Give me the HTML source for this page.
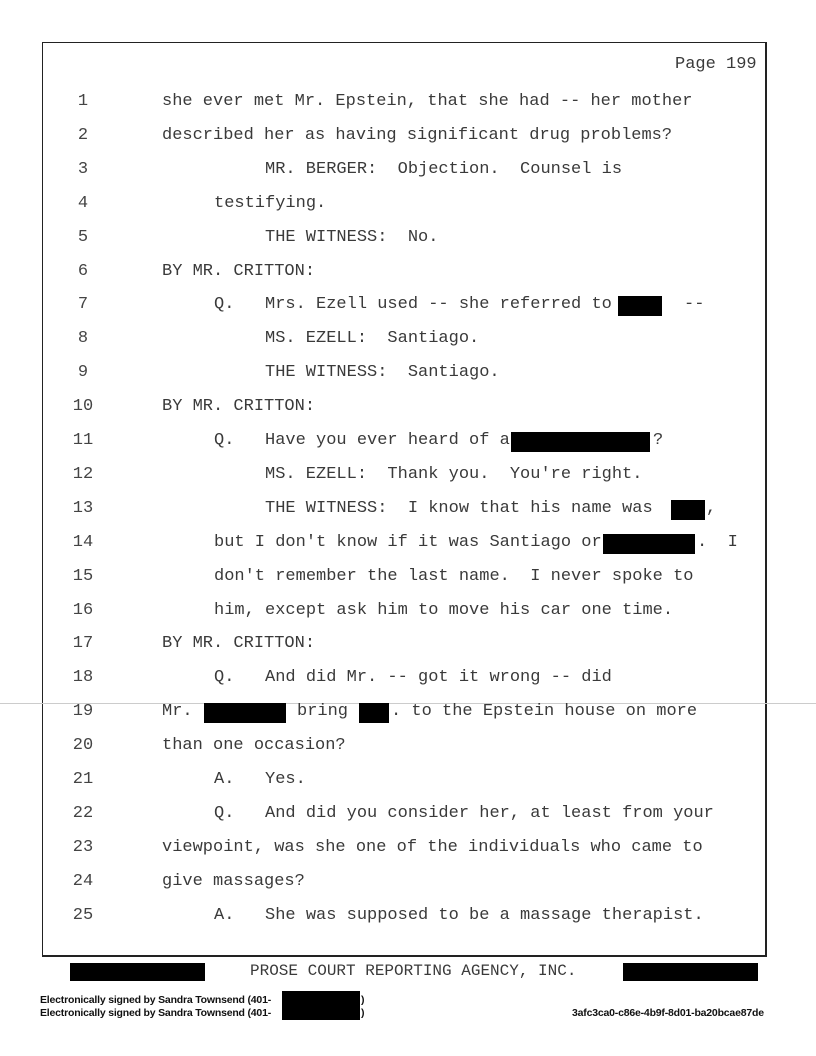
<!DOCTYPE html>
<html><head><meta charset="utf-8"><style>
body{margin:0;width:816px;height:1056px;background:#fff;position:relative;overflow:hidden;font-family:"Liberation Mono",monospace;color:#3a3a3a}
.box{position:absolute;left:42px;top:42px;width:722px;height:912px;border:1px solid #222;border-right:2px solid #222;border-bottom:2px solid #222}
.t{position:absolute;font-size:17px;white-space:pre;line-height:20px}
.n{position:absolute;font-size:17px;width:30px;text-align:center;left:68px;line-height:20px;color:#444}
.r{position:absolute;background:#000}
.s{position:absolute;font-family:"Liberation Sans",sans-serif;font-size:10.5px;font-weight:bold;color:#111;letter-spacing:-0.2px}
</style></head><body>
<div class="box"></div>
<div style="position:absolute;left:0;top:703px;width:816px;height:1px;background:#ccc"></div>
<div class="t" style="left:675px;top:55px">Page 199</div>
<div id="lines"></div>
<div class="t" style="left:250px;top:961px;font-size:16px">PROSE COURT REPORTING AGENCY, INC.</div>
<div class="r" style="left:70px;top:963px;width:135px;height:18px"></div>
<div class="r" style="left:623px;top:963px;width:135px;height:18px"></div>
<div class="s" style="left:40px;top:994px">Electronically signed by Sandra Townsend (401-</div>
<div class="s" style="left:40px;top:1007px">Electronically signed by Sandra Townsend (401-</div>
<div class="r" style="left:282px;top:991px;width:78px;height:29px"></div>
<div class="s" style="left:361px;top:994px">)</div>
<div class="s" style="left:361px;top:1007px">)</div>
<div class="s" style="left:572px;top:1007px">3afc3ca0-c86e-4b9f-8d01-ba20bcae87de</div>
<script>
var L=[
[[162,"she ever met Mr. Epstein, that she had -- her mother"]],
[[162,"described her as having significant drug problems?"]],
[[265,"MR. BERGER:  Objection.  Counsel is"]],
[[214,"testifying."]],
[[265,"THE WITNESS:  No."]],
[[162,"BY MR. CRITTON:"]],
[[214,"Q.   Mrs. Ezell used -- she referred to a"],[684,"--"]],
[[265,"MS. EZELL:  Santiago."]],
[[265,"THE WITNESS:  Santiago."]],
[[162,"BY MR. CRITTON:"]],
[[214,"Q.   Have you ever heard of a"],[653,"?"]],
[[265,"MS. EZELL:  Thank you.  You're right."]],
[[265,"THE WITNESS:  I know that his name was"],[706,","]],
[[214,"but I don't know if it was Santiago or"],[697,".  I"]],
[[214,"don't remember the last name.  I never spoke to"]],
[[214,"him, except ask him to move his car one time."]],
[[162,"BY MR. CRITTON:"]],
[[214,"Q.   And did Mr. -- got it wrong -- did"]],
[[162,"Mr."],[297,"bring"],[391,". to the Epstein house on more"]],
[[162,"than one occasion?"]],
[[214,"A.   Yes."]],
[[214,"Q.   And did you consider her, at least from your"]],
[[162,"viewpoint, was she one of the individuals who came to"]],
[[162,"give massages?"]],
[[214,"A.   She was supposed to be a massage therapist."]]];
var h="";
for(var i=0;i<25;i++){var y=92+i*33.9;
h+='<div class="n" style="top:'+y+'px">'+(i+1)+'</div>';
for(var j=0;j<L[i].length;j++)h+='<div class="t" style="left:'+L[i][j][0]+'px;top:'+y+'px">'+L[i][j][1]+'</div>';}
function r(x,w,i){var y=92+i*33.9;h+='<div class="r" style="left:'+x+'px;top:'+(y+1)+'px;width:'+w+'px;height:20px"></div>';}
r(618,44,6);r(511,139,10);r(671,34,12);r(603,92,13);r(204,82,18);r(359,30,18);
document.getElementById('lines').innerHTML=h;
</script>
</body></html>
